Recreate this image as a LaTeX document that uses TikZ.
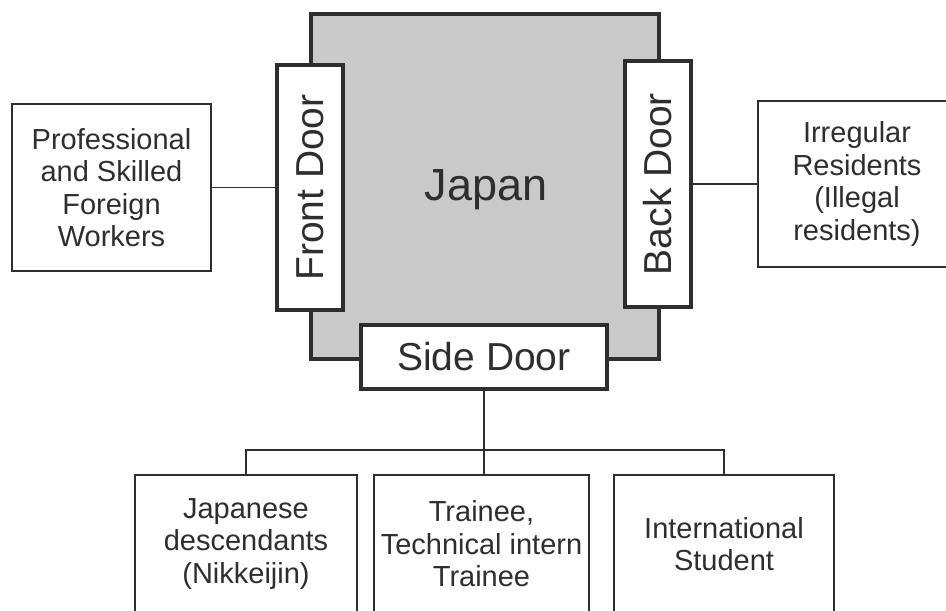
\documentclass[tikz,border=0pt]{standalone}
\usepackage{fontspec}
\setmainfont{Liberation Sans}
\definecolor{ink}{HTML}{2E2E2E}
\definecolor{japfill}{HTML}{C9C9C9}
\begin{document}
\begin{tikzpicture}[x=1pt,y=-1pt,
  box/.style={draw=ink, line width=2pt, fill=white, text=ink, align=center,
    font=\fontsize{29}{32.5}\selectfont, inner sep=0pt},
  door/.style={draw=ink, line width=4pt, fill=white, text=ink,
    font=\fontsize{39}{44}\selectfont, inner sep=0pt},
  wire/.style={draw=ink, line width=1.6pt}]
\useasboundingbox (0,0) rectangle (946,611);
\clip (0,0) rectangle (946,611);
\fill[white] (0,0) rectangle (946,611);
% Japan
\node[draw=ink, line width=4pt, fill=japfill, minimum width=348, minimum height=345, inner sep=0pt] (japan) at (485,186.5) {};
\node[text=ink, font=\fontsize{45}{50}\selectfont, anchor=base, inner sep=0pt] (jlabel) at (486,200) {Japan};
% doors
\node[door, minimum width=66, minimum height=245] (front) at (310,187.5) {\rotatebox{90}{Front Door}};
\node[door, minimum width=66, minimum height=246] (back) at (658,184) {\rotatebox{90}{Back Door}};
\node[door, minimum width=246, minimum height=64] (side) at (484,357) {Side Door};
% side boxes
\node[box, minimum width=199, minimum height=167] (lbox) at (111.5,187.5) {Professional\\and Skilled\\Foreign\\Workers};
\node[box, minimum width=198, minimum height=166] (rbox) at (857,184) {Irregular\\Residents\\(Illegal\\residents)};
% bottom boxes
\node[box, minimum width=222, minimum height=138] (b1) at (246,544) {Japanese\\descendants\\(Nikkeijin)};
\node[box, minimum width=215, minimum height=138] (b2) at (481.5,544) {Trainee,\\Technical intern\\Trainee};
\node[box, minimum width=220, minimum height=138] (b3) at (724,544) {International\\Student};
% connectors
\draw[wire] (lbox.east) -- (front.west);
\draw[wire] (back.east) -- (rbox.west);
\coordinate (bus) at (0,450);
\draw[wire] (side.south) -- (side.south |- b2.north);
\draw[wire] (b1.north) -- (b1.north |- bus) -- (b3.north |- bus) -- (b3.north);
\end{tikzpicture}
\end{document}
